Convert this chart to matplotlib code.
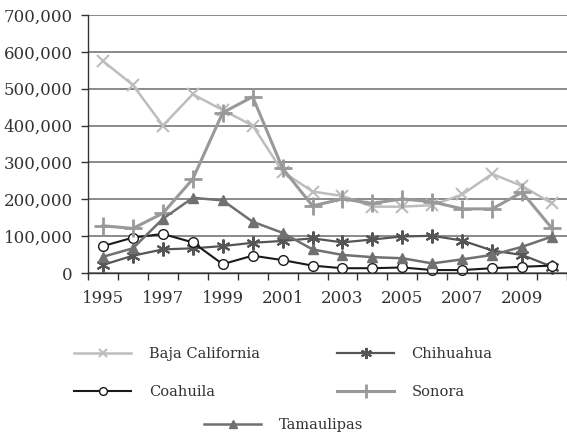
import matplotlib
matplotlib.use("Agg")
import matplotlib.pyplot as plt
from matplotlib.ticker import FuncFormatter

years = list(range(1995, 2011))
baja_california = [575000, 510000, 400000, 485000, 442000, 400000, 275000, 221000, 209000, 180000, 180000, 184000, 213000, 269000, 236000, 189000]
chihuahua = [22000, 47000, 64000, 67000, 73000, 82000, 87000, 94000, 83000, 91000, 99000, 101000, 88000, 61000, 49000, 17000]
coahuila = [73000, 96000, 106000, 83000, 24000, 47000, 35000, 20000, 13000, 13000, 15000, 8000, 8000, 13000, 17000, 20000]
sonora = [128000, 121000, 162000, 255000, 435000, 478000, 284000, 182000, 201000, 189000, 201000, 193000, 174000, 174000, 219000, 121000]
tamaulipas = [44000, 67000, 147000, 204000, 197000, 139000, 109000, 64000, 49000, 43000, 40000, 26000, 37000, 49000, 71000, 99000]
year_labels = [str(y) if (y - 1995) % 2 == 0 else "" for y in years]
y_ticks = [0, 100000, 200000, 300000, 400000, 500000, 600000, 700000]

plt.rcParams['font.family'] = ['DejaVu Serif']
fig = plt.figure(figsize=(5.67, 4.36), dpi=100)
W, H = 567, 436
ax = fig.add_axes([88 / W, 1 - 273 / H, (567 - 88) / W, (273 - 15) / H])

x = list(range(len(years)))
styles = [
    ("Baja California", baja_california, dict(color="#bdbdbd", lw=1.8, marker="x", ms=8, mew=1.5)),
    ("Chihuahua", chihuahua, dict(color="#555555", lw=1.6, marker=(6, 2, 0), ms=10, mew=1.5)),
    ("Coahuila", coahuila, dict(color="#1a1a1a", lw=1.5, marker="o", ms=7, mfc="white", mec="#1a1a1a", mew=1.0)),
    ("Sonora", sonora, dict(color="#999999", lw=2.2, marker="+", ms=13, mew=2.0)),
    ("Tamaulipas", tamaulipas, dict(color="#707070", lw=1.8, marker="^", ms=7)),
]
handles = {}
for name, vals, st in styles:
    h, = ax.plot(x, vals, label=name, clip_on=False, **st)
    handles[name] = h

ax.set_ylim(0, 700000)
ax.set_yticks(y_ticks)
ax.yaxis.set_major_formatter(FuncFormatter(lambda v, p: f"{int(v):,}"))
ax.set_xlim(-0.5, 15.36)
ax.set_xticks(x)
ax.set_xticklabels(year_labels)
ax.set_xticks([i - 0.5 for i in range(17)], minor=True)
ax.tick_params(axis="x", which="major", length=0, labelsize=12, pad=12, colors="#333333")
ax.tick_params(axis="x", which="minor", length=5, width=1, color="#333333", direction="out")
ax.tick_params(axis="y", length=5, width=1, color="#333333", labelsize=12, pad=6, labelcolor="#333333")
ax.grid(axis="y", color="#777777", lw=1.2)
ax.set_axisbelow(True)
for s in ["top", "right"]:
    ax.spines[s].set_visible(False)
ax.spines["left"].set_color("#333333")
ax.spines["bottom"].set_color("#333333")
ax.spines["left"].set_linewidth(1)
ax.spines["bottom"].set_linewidth(1)

fs = 10.5
leg1 = fig.legend([handles["Baja California"], handles["Coahuila"], handles["Chihuahua"], handles["Sonora"]],
                  ["Baja California", "Coahuila", "Chihuahua", "Sonora"],
                  ncol=2, loc="center", bbox_to_anchor=(0.5, 1 - 373 / H), frameon=False,
                  fontsize=fs, handlelength=3.9, handletextpad=1.2, columnspacing=5.3,
                  labelspacing=1.6, markerscale=0.8)
for t in leg1.get_texts():
    t.set_color("#333333")
leg2 = fig.legend([handles["Tamaulipas"]], ["Tamaulipas"], loc="center",
                  bbox_to_anchor=(0.5, 1 - 425 / H), frameon=False, fontsize=fs,
                  handlelength=3.9, handletextpad=1.2, markerscale=0.8)
for t in leg2.get_texts():
    t.set_color("#333333")

fig.savefig("out.png", dpi=100)
